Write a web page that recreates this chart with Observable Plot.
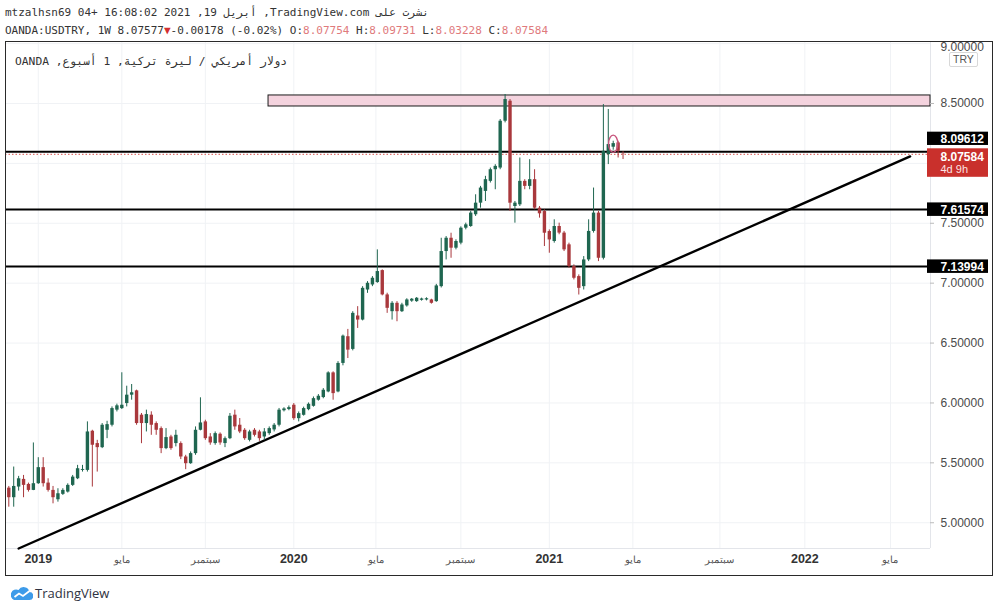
<!DOCTYPE html>
<html><head><meta charset="utf-8">
<script src="https://cdn.jsdelivr.net/npm/d3@7"></script>
<script src="https://cdn.jsdelivr.net/npm/@observablehq/plot@0.6"></script>
<style>
body{margin:0;background:#fff;width:1000px;height:612px;overflow:hidden;position:relative;font-family:"DejaVu Sans Mono",monospace;}
.hdr{position:absolute;left:5px;font-size:11px;color:#333;white-space:nowrap;line-height:14px;}
.pk{color:#e07a7c}
#chart{position:absolute;left:5px;top:41px;width:988px;height:535px;overflow:hidden;}
#frame{position:absolute;left:5px;top:41px;width:988px;height:535px;border:1px solid #2a2a2a;box-sizing:border-box;pointer-events:none;}
#legend{position:absolute;left:15px;top:55px;font-size:11.3px;color:#333;white-space:nowrap;}
#try{position:absolute;left:949px;top:52px;font:10.5px "Liberation Sans",sans-serif;color:#555;border:1px solid #d8d8d8;border-radius:2px;padding:0 3px;line-height:13px;background:#fff}
#logo{position:absolute;left:11px;top:584px;display:flex;align-items:center;font:13px "Open Sans",sans-serif;color:#2f3241;}
</style></head><body>
<div class="hdr" style="top:6px" dir="rtl">نشرت على TradingView.com, أبريل 19, 2021 16:08:02 +04 mtzalhsn69</div>
<div class="hdr" style="top:24px">OANDA:USDTRY, 1W 8.07577<span style="color:#d32f2f">▼</span>-0.00178 (-0.02%) O:<span class="pk">8.07754</span> H:<span class="pk">8.09731</span> L:<span class="pk">8.03228</span> C:<span class="pk">8.07584</span></div>
<div id="chart"></div>
<div id="frame"></div>
<div id="legend" dir="rtl">دولار أمريكي / ليرة تركية, 1 أسبوع, OANDA</div>
<div id="try">TRY</div>
<div id="logo"><svg width="22" height="16" viewBox="0 0 22 16"><path d="M3 15 H18 A4 4 0 0 0 18.5 7 A6 6 0 0 0 7.5 5 A5 5 0 0 0 3 15 Z" fill="#3d9be9"/><path d="M3.5 12 L8 8.5 L12 11 L18.5 6" stroke="#fff" stroke-width="1.8" fill="none"/></svg><span style="margin-left:2px">TradingView</span></div>
<script>
// weekly OHLC, OANDA USDTRY, first week starting 2018-11-25
const firstWeek = "2018-11-25";
const open = [5.289,5.209,5.298,5.362,5.320,5.270,5.326,5.460,5.331,5.270,5.192,5.237,5.256,5.312,5.367,5.437,5.437,5.764,5.661,5.627,5.772,5.814,5.940,5.953,5.995,6.065,6.101,5.898,5.828,5.898,5.828,5.786,5.619,5.716,5.661,5.661,5.549,5.493,5.577,5.772,5.842,5.716,5.661,5.739,5.661,5.702,5.898,5.814,5.772,5.688,5.772,5.758,5.716,5.744,5.775,5.814,5.935,5.945,5.981,5.869,5.897,5.944,5.972,6.023,6.045,6.092,6.251,6.092,6.330,6.553,6.447,6.726,6.692,6.943,6.985,7.005,7.105,6.902,6.762,6.832,6.762,6.810,6.850,6.846,6.857,6.860,6.860,6.846,6.971,7.264,7.375,7.292,7.334,7.459,7.473,7.571,7.668,7.766,7.850,7.947,7.961,8.352,8.519,7.640,7.654,7.850,7.808,7.864,7.626,7.598,7.431,7.348,7.473,7.418,7.320,7.139,7.055,6.971,7.194,7.432,7.585,7.208,8.073,8.135,8.171,8.07754];
const high = [5.303,5.465,5.387,5.395,5.331,5.666,5.543,5.543,5.367,5.303,5.284,5.284,5.325,5.395,5.479,5.479,5.842,5.772,5.688,5.828,5.847,5.967,5.990,6.252,6.140,6.154,6.107,5.912,5.940,5.926,5.842,5.800,5.786,5.730,5.772,5.675,5.563,5.591,5.800,6.043,5.856,5.744,5.758,5.750,5.716,5.912,5.940,5.870,5.786,5.772,5.786,5.772,5.786,5.800,5.828,5.954,5.960,5.975,5.995,5.925,5.965,6.000,6.050,6.070,6.120,6.260,6.260,6.345,6.567,6.614,6.762,6.804,6.971,7.013,7.055,7.278,7.111,6.916,6.846,6.846,6.832,6.870,6.872,6.880,6.875,6.878,6.866,6.990,7.375,7.389,7.417,7.362,7.470,7.501,7.599,7.738,7.808,7.892,7.961,7.989,8.366,8.575,8.533,7.682,8.045,7.864,8.031,7.947,7.640,7.612,7.445,7.529,7.501,7.432,7.334,7.153,7.069,7.222,7.529,7.794,7.599,8.491,8.450,8.185,8.185,8.09731];
const low = [5.130,5.130,5.264,5.209,5.256,5.268,5.320,5.298,5.256,5.158,5.172,5.228,5.248,5.303,5.360,5.423,5.423,5.298,5.423,5.619,5.702,5.800,5.925,5.945,5.967,6.023,5.814,5.660,5.758,5.730,5.730,5.577,5.610,5.605,5.633,5.527,5.443,5.488,5.563,5.767,5.688,5.647,5.647,5.647,5.627,5.694,5.772,5.744,5.688,5.675,5.716,5.680,5.688,5.730,5.758,5.800,5.925,5.935,5.855,5.842,5.890,5.935,5.965,6.015,6.035,6.085,6.023,6.085,6.310,6.371,6.435,6.622,6.685,6.915,6.971,6.999,6.894,6.748,6.692,6.678,6.755,6.800,6.840,6.840,6.850,6.852,6.825,6.840,6.960,7.194,7.208,7.278,7.320,7.445,7.466,7.557,7.626,7.682,7.836,7.780,7.947,8.338,7.599,7.501,7.640,7.780,7.780,7.613,7.543,7.306,7.250,7.334,7.404,7.264,7.125,7.027,6.901,6.943,7.180,7.418,7.180,7.194,7.990,8.110,8.045,8.03228];
const close = [5.209,5.303,5.367,5.312,5.270,5.326,5.460,5.326,5.270,5.209,5.242,5.270,5.312,5.381,5.451,5.445,5.758,5.647,5.627,5.814,5.819,5.953,5.976,5.981,6.065,6.085,5.828,5.828,5.903,5.814,5.772,5.619,5.711,5.619,5.730,5.549,5.493,5.577,5.772,5.833,5.702,5.666,5.744,5.666,5.702,5.889,5.800,5.758,5.702,5.758,5.730,5.702,5.758,5.786,5.814,5.940,5.950,5.961,5.869,5.911,5.953,5.989,6.036,6.056,6.106,6.251,6.078,6.330,6.558,6.441,6.748,6.692,6.957,6.999,7.041,7.097,6.902,6.790,6.832,6.762,6.818,6.860,6.866,6.874,6.868,6.870,6.832,6.977,7.264,7.375,7.292,7.348,7.459,7.487,7.585,7.668,7.794,7.864,7.947,7.975,8.352,8.533,7.668,7.668,7.850,7.808,7.864,7.626,7.579,7.417,7.361,7.473,7.418,7.278,7.139,7.041,6.957,7.194,7.432,7.585,7.208,8.101,8.157,8.165,8.101,8.07584];

// horizontal levels and labels
const levels = [8.09612, 7.61574, 7.13994];
const lastClose = 8.07584;
const lastLabel = "4d 9h";
// resistance zone
const zoneStart = "2019-11-30", zoneLow = 8.475, zoneHigh = 8.567;
// trend line points
const trendDates = ["2018-12-09", "2022-06-01"];
const trendValues = [4.785, 8.058];
// highlighted candle
const circleDate = "2021-04-04", circleValue = 8.164;
// axis ticks
const priceTicks = [5.0, 5.5, 6.0, 6.5, 7.0, 7.5, 8.5];
const topTick = 9.0;
const gridPrices = [5.0, 5.5, 6.0, 6.5, 7.0, 7.5, 8.0, 8.5, 9.0];
const yearTicks = [["2019-01-06","2019"],["2020-01-05","2020"],["2021-01-03","2021"],["2022-01-02","2022"]];
const monthTicks = [["2019-05-05","مايو"],["2019-09-01","سبتمبر"],["2020-05-01","مايو"],["2020-08-30","سبتمبر"],["2021-05-02","مايو"],["2021-09-03","سبتمبر"],["2022-05-04","مايو"]];

const G = "#1f6650", R = "#a9383c";
const d0 = new Date(firstWeek + "T00:00:00Z");
const dates = d3.utcWeek.range(d0, d3.utcWeek.offset(d0, open.length));
const candles = dates.map((d, i) => ({date: d, open: open[i], high: high[i], low: low[i], close: close[i]}));
const xStart = new Date(+d0 - 4.7 * 864e5), xEnd = new Date(+d0 + 1313 * 864e5);
const yDomain = [4.785, 9.0175];
const P = s => new Date(s + "T00:00:00Z");
const trend = trendDates.map((d, i) => ({date: P(d), value: trendValues[i]}));
const k = 0.5523;
const ellipse = {draw(ctx) { const rx = 4.6, ry = 8.6;
  ctx.moveTo(rx, 0); ctx.bezierCurveTo(rx, k*ry, k*rx, ry, 0, ry); ctx.bezierCurveTo(-k*rx, ry, -rx, k*ry, -rx, 0);
  ctx.bezierCurveTo(-rx, -k*ry, -k*rx, -ry, 0, -ry); ctx.bezierCurveTo(k*rx, -ry, rx, -k*ry, rx, 0); ctx.closePath(); }};
const col = d => d.close >= d.open ? G : R;
const lab = {fontFamily: "Liberation Sans", fontSize: 12};

const plot = Plot.plot({
  width: 988, height: 535, marginLeft: 0, marginRight: 63, marginTop: 0, marginBottom: 28,
  x: {type: "utc", domain: [xStart, xEnd], axis: null},
  y: {domain: yDomain, axis: null},
  color: {type: "identity"},
  style: {background: "transparent", overflow: "hidden"},
  marks: [
    Plot.ruleY(gridPrices, {stroke: "#f0f2f5"}),
    Plot.ruleX([...yearTicks, ...monthTicks].map(t => P(t[0])), {stroke: "#f0f2f5"}),
    Plot.ruleX([xEnd], {stroke: "#e3e5ea"}),
    Plot.ruleY([yDomain[0]], {stroke: "#e3e5ea"}),
    Plot.rect([0], {x1: P(zoneStart), x2: xEnd, y1: zoneLow, y2: zoneHigh, fill: "#f4d3de", stroke: "#1a1a1a", strokeWidth: 1}),
    Plot.ruleY(levels, {stroke: "#000", strokeWidth: 2}),
    Plot.ruleY([lastClose], {stroke: "#d9534f", strokeDasharray: "1.5,2", strokeWidth: 1}),
    Plot.line(trend, {x: "date", y: "value", stroke: "#000", strokeWidth: 2.4}),
    Plot.ruleX(candles, {x: "date", y1: "low", y2: "high", stroke: col, strokeWidth: 1}),
    Plot.ruleX(candles, {x: "date", y1: "open", y2: "close", stroke: col, strokeWidth: 3.4}),
    Plot.dot([0], {x: P(circleDate), y: circleValue, symbol: ellipse, stroke: "#c8557d", strokeWidth: 1.4, fill: "none"}),
    // price axis
    Plot.ruleY(priceTicks, {x1: xEnd, x2: xEnd, insetRight: -4, stroke: "#bbb"}),
    Plot.text(priceTicks, {y: d => d, frameAnchor: "right", dx: 10, textAnchor: "start", text: d => d.toFixed(5), fill: "#4a4a4a", ...lab}),
    Plot.text([topTick], {y: d => d, frameAnchor: "right", dx: 10, dy: 4, textAnchor: "start", text: d => d.toFixed(5), fill: "#4a4a4a", ...lab}),
    // level labels
    Plot.ruleY(levels.concat([lastClose]), {x1: xEnd, x2: xEnd, insetRight: -4, stroke: "#000"}),
    Plot.rect([levels[0]], {x1: xEnd, x2: xEnd, y1: d => d, y2: d => d, insetLeft: -3, insetRight: -58, insetTop: -19.7, insetBottom: 6.4, fill: "#000"}),
    Plot.rect(levels.slice(1), {x1: xEnd, x2: xEnd, y1: d => d, y2: d => d, insetLeft: -3, insetRight: -58, insetTop: -6.5, insetBottom: -7, fill: "#000"}),
    Plot.rect([lastClose], {x1: xEnd, x2: xEnd, y1: d => d, y2: d => d, insetLeft: -3, insetRight: -58, insetTop: -5.5, insetBottom: -23, fill: "#c9302c"}),
    Plot.text([levels[0]], {x: xEnd, y: d => d, dx: 10, dy: -13, textAnchor: "start", text: d => d.toFixed(5), fill: "#fff", fontWeight: "bold", ...lab}),
    Plot.text(levels.slice(1), {x: xEnd, y: d => d, dx: 10, dy: 0.5, textAnchor: "start", text: d => d.toFixed(5), fill: "#fff", fontWeight: "bold", ...lab}),
    Plot.text([lastClose], {x: xEnd, y: d => d, dx: 10, dy: 3, textAnchor: "start", text: d => d.toFixed(5), fill: "#fff", fontWeight: "bold", ...lab}),
    Plot.text([lastLabel], {x: xEnd, y: lastClose, dx: 10, dy: 15.5, textAnchor: "start", text: d => d, fill: "#fbe3e3", fontFamily: "Liberation Sans", fontSize: 11}),
    // time axis
    Plot.text(yearTicks, {x: d => P(d[0]), frameAnchor: "bottom", dy: 14, text: d => d[1], fill: "#333", fontWeight: "bold", fontFamily: "Liberation Sans", fontSize: 12.5}),
    Plot.text(monthTicks, {x: d => P(d[0]), frameAnchor: "bottom", dy: 14, text: d => d[1], fill: "#555", fontFamily: "Noto Sans", fontSize: 10})
  ]
});
document.getElementById("chart").appendChild(plot);
</script>
</body></html>
